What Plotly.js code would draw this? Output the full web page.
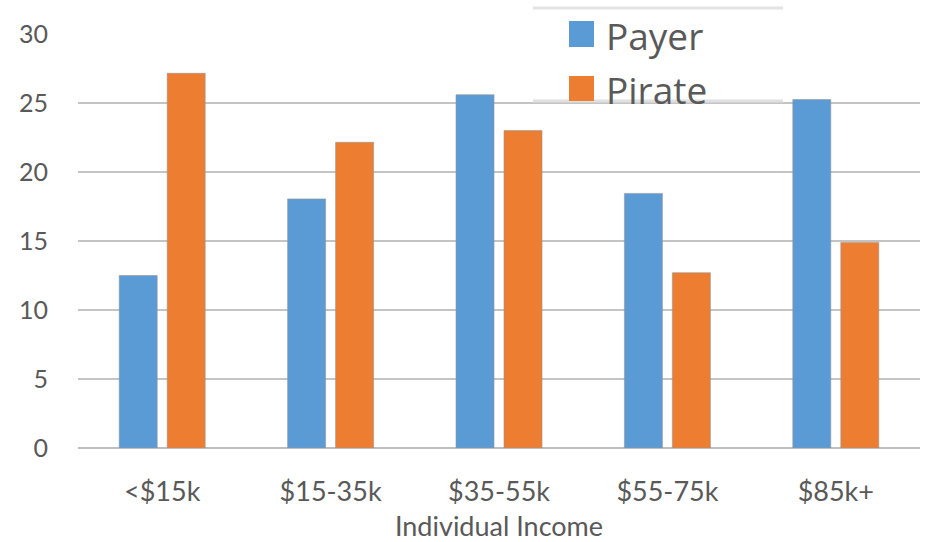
<!DOCTYPE html>
<html>
<head>
<meta charset="utf-8">
<script src="https://cdn.plot.ly/plotly-3.0.1.min.js"></script>
<style>html,body{margin:0;padding:0;background:#fff;}#chart{width:926px;height:542px;}</style>
</head>
<body>
<div id="chart"></div>
<script>
const categories = ['<$15k', '$15-35k', '$35-55k', '$55-75k', '$85k+'];
const payerValues = [12.5, 18.05, 25.6, 18.45, 25.25];
const pirateValues = [27.15, 22.15, 23.0, 12.7, 14.9];
const seriesNames = ['Payer', 'Pirate'];
const yTicks = [0, 5, 10, 15, 20, 25, 30];
const xTitle = 'Individual Income';

const colors = ['#5b9bd5', '#ed7d31'];
const fontFam = 'Lato, "Open Sans", sans-serif';
const textColor = '#595959';

const traces = [
  {type: 'bar', name: seriesNames[0], x: categories, y: payerValues,
   marker: {color: colors[0], line: {color: 'rgba(150,150,150,0.6)', width: 1}}},
  {type: 'bar', name: seriesNames[1], x: categories, y: pirateValues,
   marker: {color: colors[1], line: {color: 'rgba(150,150,150,0.6)', width: 1}}}
];

const layout = {
  width: 926, height: 542,
  margin: {l: 78, r: 6, t: 34, b: 94, pad: 0},
  paper_bgcolor: '#ffffff', plot_bgcolor: '#ffffff',
  barmode: 'group', bargap: 0.43, bargroupgap: 0.208,
  showlegend: false,
  font: {family: fontFam, color: textColor, size: 27},
  xaxis: {
    type: 'category',
    tickfont: {size: 27, color: textColor},
    ticks: 'outside', ticklen: 20, tickcolor: 'rgba(0,0,0,0)',
    showline: false, showgrid: false,
    title: {text: xTitle, font: {size: 27, color: textColor}, standoff: 20},
    automargin: false
  },
  yaxis: {
    range: [0, 30], tickvals: yTicks, ticktext: yTicks.map(String),
    tickfont: {size: 25, color: textColor},
    showgrid: true, gridcolor: '#c4c4c4', gridwidth: 2,
    zeroline: true, zerolinecolor: '#bdbdbd', zerolinewidth: 2,
    ticks: 'outside', ticklen: 24, tickcolor: 'rgba(0,0,0,0)',
    showline: false, automargin: false
  },
  shapes: [
    {type: 'line', xref: 'paper', yref: 'paper', x0: (533-78)/842, x1: (783-78)/842,
     y0: (448-8)/414, y1: (448-8)/414, line: {color: '#e4e4e4', width: 3}, layer: 'above'},
    {type: 'line', xref: 'paper', yref: 'paper', x0: (533-78)/842, x1: (783-78)/842,
     y0: (448-101)/414, y1: (448-101)/414, line: {color: '#e0e0e0', width: 3}, layer: 'above'},
    {type: 'rect', xref: 'paper', yref: 'paper', x0: (569-78)/842, x1: (594-78)/842,
     y0: (448-47)/414, y1: (448-21)/414, fillcolor: colors[0], line: {width: 0}, layer: 'above'},
    {type: 'rect', xref: 'paper', yref: 'paper', x0: (569-78)/842, x1: (594-78)/842,
     y0: (448-101)/414, y1: (448-76)/414, fillcolor: colors[1], line: {width: 0}, layer: 'above'}
  ],
  annotations: [
    {xref: 'paper', yref: 'paper', x: (604-78)/842, y: (448-35)/414, xanchor: 'left', yanchor: 'middle',
     text: seriesNames[0], showarrow: false, font: {size: 37, color: textColor, family: '"Open Sans", sans-serif'}},
    {xref: 'paper', yref: 'paper', x: (604-78)/842, y: (448-89)/414, xanchor: 'left', yanchor: 'middle',
     text: seriesNames[1], showarrow: false, font: {size: 37, color: textColor, family: '"Open Sans", sans-serif'}}
  ]
};

Plotly.newPlot('chart', traces, layout, {displayModeBar: false, staticPlot: true});
</script>
</body>
</html>
